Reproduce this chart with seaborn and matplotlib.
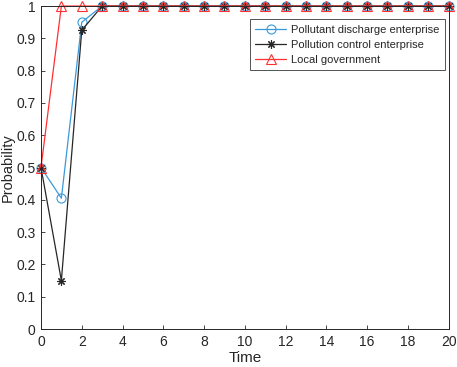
import matplotlib
matplotlib.use("Agg")
import matplotlib.pyplot as plt
import seaborn as sns
import pandas as pd
import numpy as np

sns.set_style("ticks")
plt.rcParams['font.family'] = ['Liberation Sans', 'DejaVu Sans']

time = list(range(21))
discharge = [0.5, 0.405, 0.95] + [1.0] * 18
control = [0.5, 0.15, 0.925] + [1.0] * 18
government = [0.5, 1.0, 1.0] + [1.0] * 18

fig = plt.figure(figsize=(4.57, 3.67), dpi=100)
ax = fig.add_axes([0.0897, 0.1035, 0.892, 0.880])

series = [
    ("Pollutant discharge enterprise", discharge, "#3a9ad9", "o", 6.5, "none"),
    ("Pollution control enterprise", control, "#262626", (8, 2, 0), 6.0, "none"),
    ("Local government", government, "#ff3030", "^", 7, "none"),
]
for name, vals, color, marker, ms, fc in series:
    df = pd.DataFrame({"Time": time, "Probability": vals})
    sns.lineplot(data=df, x="Time", y="Probability", ax=ax, color=color,
                 marker=marker, markersize=ms, markerfacecolor=fc,
                 markeredgecolor=color, markeredgewidth=0.8, linewidth=0.9,
                 label=name)

ax.set_xlim(0, 20)
ax.set_ylim(0, 1)
ax.set_xticks(range(0, 21, 2))
ax.set_yticks(np.round(np.arange(0, 1.01, 0.1), 1))
ax.set_yticklabels(["0", "0.1", "0.2", "0.3", "0.4", "0.5", "0.6", "0.7", "0.8", "0.9", "1"])
ax.tick_params(direction="in", length=3, labelsize=10, colors="#262626", width=0.6, pad=4)
for s in ax.spines.values():
    s.set_visible(True)
    s.set_color("#262626")
    s.set_linewidth(0.7)
ax.set_xlabel("Time", fontsize=11, labelpad=2)
ax.set_ylabel("Probability", fontsize=10.5, labelpad=1)
leg = ax.legend(loc="upper right", bbox_to_anchor=(0.99, 0.96), fontsize=8,
                frameon=True, fancybox=False, edgecolor="#262626",
                borderpad=0.5, labelspacing=0.45, handlelength=2.8,
                handletextpad=0.4, borderaxespad=0)
leg.get_frame().set_linewidth(0.7)
for line in ax.get_lines():
    line.set_clip_on(False)
fig.savefig("out.png", dpi=100)
